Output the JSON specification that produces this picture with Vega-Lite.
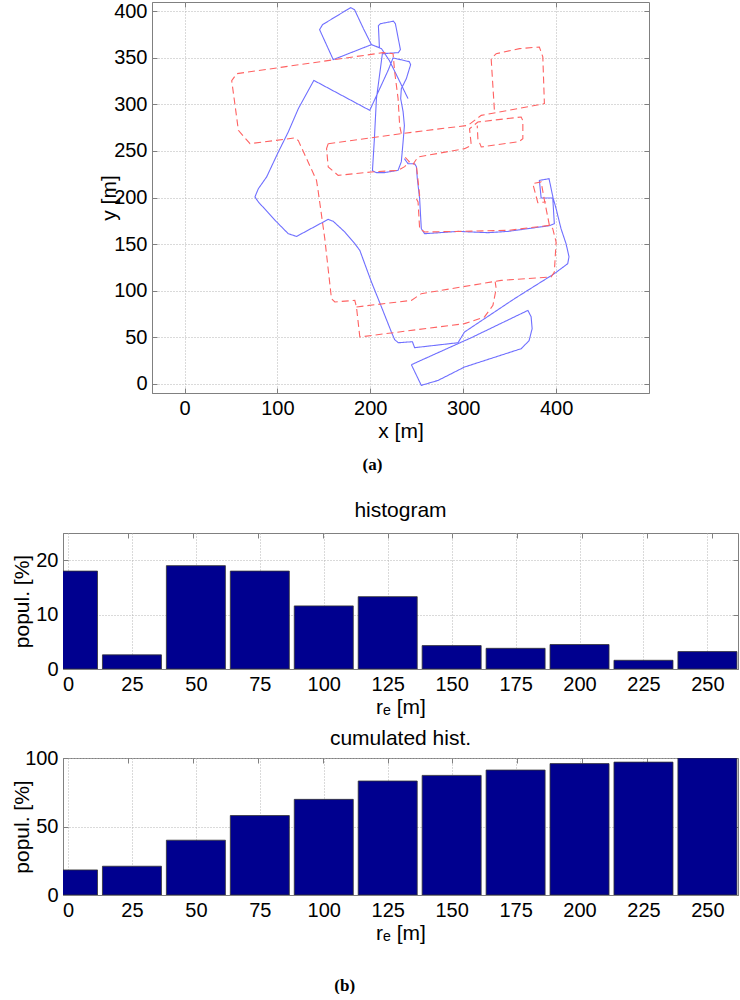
{
  "$schema": "https://vega.github.io/schema/vega-lite/v6.json",
  "padding": {"left": 10, "top": 0, "right": 0, "bottom": 0},
  "background": "white",
  "config": {
    "view": {"stroke": "#808080", "strokeWidth": 1},
    "axis": {
      "labelFont": "Liberation Sans", "labelFontSize": 20, "labelColor": "#000",
      "titleFont": "Liberation Sans", "titleFontSize": 21, "titleFontWeight": "normal", "titleColor": "#000",
      "domainColor": "#808080", "tickColor": "#808080", "tickSize": -5, "labelPadding": 10,
      "grid": true, "gridColor": "#b4b4b4", "gridDash": [1, 2], "gridWidth": 1
    },
    "title": {"font": "Liberation Sans", "fontSize": 21, "fontWeight": "normal", "color": "#000"}
  },
  "datasets": {
    "traj": [
      {"s":"blue","seg":"b1","i":1,"x":240.6,"y":306.2},
      {"s":"blue","seg":"b1","i":2,"x":229.1,"y":329.8},
      {"s":"blue","seg":"b1","i":3,"x":220.6,"y":347.0},
      {"s":"blue","seg":"b1","i":4,"x":212.0,"y":359.9},
      {"s":"blue","seg":"b1","i":5,"x":201.2,"y":364.2},
      {"s":"blue","seg":"b1","i":6,"x":160.1,"y":348.1},
      {"s":"blue","seg":"b1","i":7,"x":145.4,"y":380.3},
      {"s":"blue","seg":"b1","i":8,"x":148.6,"y":385.7},
      {"s":"blue","seg":"b1","i":9,"x":178.7,"y":403.9},
      {"s":"blue","seg":"b1","i":10,"x":183.0,"y":401.8},
      {"s":"blue","seg":"b1","i":11,"x":192.6,"y":381.4},
      {"s":"blue","seg":"b1","i":12,"x":201.2,"y":364.2},
      {"s":"blue","seg":"b1","i":13,"x":209.8,"y":361.0},
      {"s":"blue","seg":"b1","i":14,"x":208.7,"y":384.6},
      {"s":"blue","seg":"b1","i":15,"x":210.9,"y":386.7},
      {"s":"blue","seg":"b1","i":16,"x":224.9,"y":389.4},
      {"s":"blue","seg":"b1","i":17,"x":227.0,"y":386.7},
      {"s":"blue","seg":"b1","i":18,"x":232.4,"y":358.8},
      {"s":"blue","seg":"b1","i":19,"x":230.2,"y":355.6},
      {"s":"blue","seg":"b1","i":20,"x":213.0,"y":354.5},
      {"s":"blue","seg":"b1","i":21,"x":206.6,"y":306.2},
      {"s":"blue","seg":"b1","i":22,"x":204.4,"y":263.2},
      {"s":"blue","seg":"b1","i":23,"x":202.3,"y":228.8},
      {"s":"blue","seg":"b1","i":24,"x":206.6,"y":226.7},
      {"s":"blue","seg":"b1","i":25,"x":215.2,"y":226.7},
      {"s":"blue","seg":"b1","i":26,"x":229.9,"y":229.2},
      {"s":"blue","seg":"b1","i":27,"x":233.4,"y":238.5},
      {"s":"blue","seg":"b1","i":28,"x":235.3,"y":260.0},
      {"s":"blue","seg":"b1","i":29,"x":236.7,"y":277.2},
      {"s":"blue","seg":"b1","i":30,"x":235.3,"y":292.2},
      {"s":"blue","seg":"b1","i":31,"x":232.7,"y":306.2},
      {"s":"blue","seg":"b1","i":32,"x":233.4,"y":316.9},
      {"s":"blue","seg":"b1","i":33,"x":238.8,"y":327.7},
      {"s":"blue","seg":"b1","i":34,"x":243.4,"y":342.7},
      {"s":"blue","seg":"b1","i":35,"x":242.0,"y":345.9},
      {"s":"blue","seg":"b1","i":36,"x":224.5,"y":349.9},
      {"s":"blue","seg":"b1","i":37,"x":219.2,"y":336.6},
      {"s":"blue","seg":"b1","i":38,"x":199.4,"y":293.6},
      {"s":"blue","seg":"b1","i":39,"x":139.2,"y":325.8},
      {"s":"blue","seg":"b1","i":40,"x":122.5,"y":295.4},
      {"s":"blue","seg":"b1","i":41,"x":111.7,"y":270.4},
      {"s":"blue","seg":"b1","i":42,"x":101.0,"y":248.9},
      {"s":"blue","seg":"b1","i":43,"x":88.4,"y":222.1},
      {"s":"blue","seg":"b1","i":44,"x":79.5,"y":209.5},
      {"s":"blue","seg":"b1","i":45,"x":75.8,"y":200.6},
      {"s":"blue","seg":"b1","i":46,"x":79.5,"y":195.2},
      {"s":"blue","seg":"b1","i":47,"x":99.2,"y":173.7},
      {"s":"blue","seg":"b1","i":48,"x":111.7,"y":161.1},
      {"s":"blue","seg":"b1","i":49,"x":120.6,"y":158.2},
      {"s":"blue","seg":"b1","i":50,"x":126.0,"y":161.1},
      {"s":"blue","seg":"b1","i":51,"x":144.0,"y":170.8},
      {"s":"blue","seg":"b1","i":52,"x":154.7,"y":176.5},
      {"s":"blue","seg":"b1","i":53,"x":160.1,"y":174.4},
      {"s":"blue","seg":"b1","i":54,"x":172.5,"y":163.0},
      {"s":"blue","seg":"b1","i":55,"x":183.3,"y":150.4},
      {"s":"blue","seg":"b1","i":56,"x":188.7,"y":143.2},
      {"s":"blue","seg":"b1","i":57,"x":201.2,"y":109.3},
      {"s":"blue","seg":"b1","i":58,"x":212.0,"y":82.4},
      {"s":"blue","seg":"b1","i":59,"x":222.7,"y":55.5},
      {"s":"blue","seg":"b1","i":60,"x":226.2,"y":47.3},
      {"s":"blue","seg":"b1","i":61,"x":230.2,"y":44.0},
      {"s":"blue","seg":"b1","i":62,"x":245.3,"y":45.1},
      {"s":"blue","seg":"b1","i":63,"x":247.7,"y":38.7},
      {"s":"blue","seg":"b1","i":64,"x":294.4,"y":44.0},
      {"s":"blue","seg":"b1","i":65,"x":301.4,"y":55.5},
      {"s":"blue","seg":"b1","i":66,"x":355.2,"y":91.3},
      {"s":"blue","seg":"b1","i":67,"x":398.1,"y":118.2},
      {"s":"blue","seg":"b1","i":68,"x":412.5,"y":128.9},
      {"s":"blue","seg":"b1","i":69,"x":413.9,"y":136.4},
      {"s":"blue","seg":"b1","i":70,"x":410.7,"y":150.4},
      {"s":"blue","seg":"b1","i":71,"x":405.3,"y":166.5},
      {"s":"blue","seg":"b1","i":72,"x":400.0,"y":188.0},
      {"s":"blue","seg":"b1","i":73,"x":396.7,"y":199.8},
      {"s":"blue","seg":"b1","i":74,"x":392.4,"y":220.2},
      {"s":"blue","seg":"b1","i":75,"x":382.0,"y":218.4},
      {"s":"blue","seg":"b1","i":76,"x":383.9,"y":199.5},
      {"s":"blue","seg":"b1","i":77,"x":396.4,"y":199.5},
      {"s":"blue","seg":"b1","i":78,"x":398.1,"y":171.9},
      {"s":"blue","seg":"b1","i":79,"x":392.8,"y":169.7},
      {"s":"blue","seg":"b1","i":80,"x":348.1,"y":163.6},
      {"s":"blue","seg":"b1","i":81,"x":326.6,"y":162.2},
      {"s":"blue","seg":"b1","i":82,"x":294.4,"y":163.6},
      {"s":"blue","seg":"b1","i":83,"x":258.5,"y":161.1},
      {"s":"blue","seg":"b1","i":84,"x":254.9,"y":166.5},
      {"s":"blue","seg":"b1","i":85,"x":253.1,"y":198.7},
      {"s":"blue","seg":"b1","i":86,"x":250.6,"y":220.2},
      {"s":"blue","seg":"b1","i":87,"x":249.6,"y":233.1},
      {"s":"blue","seg":"b1","i":88,"x":247.7,"y":236.3},
      {"s":"blue","seg":"b1","i":89,"x":240.6,"y":236.3},
      {"s":"blue","seg":"b1","i":90,"x":236.7,"y":241.7},
      {"s":"blue","seg":"b2","i":1,"x":244.2,"y":20.4},
      {"s":"blue","seg":"b2","i":2,"x":308.7,"y":49.4},
      {"s":"blue","seg":"b2","i":3,"x":369.6,"y":78.7},
      {"s":"blue","seg":"b2","i":4,"x":373.1,"y":72.0},
      {"s":"blue","seg":"b2","i":5,"x":374.2,"y":59.1},
      {"s":"blue","seg":"b2","i":6,"x":370.9,"y":46.2},
      {"s":"blue","seg":"b2","i":7,"x":362.4,"y":37.6},
      {"s":"blue","seg":"b2","i":8,"x":301.4,"y":17.9},
      {"s":"blue","seg":"b2","i":9,"x":272.9,"y":3.5},
      {"s":"blue","seg":"b2","i":10,"x":254.9,"y":-1.8},
      {"s":"blue","seg":"b2","i":11,"x":244.2,"y":20.4},
      {"s":"red","seg":"r1","i":1,"x":233.4,"y":268.6},
      {"s":"red","seg":"r1","i":2,"x":231.6,"y":277.2},
      {"s":"red","seg":"r1","i":3,"x":229.9,"y":306.2},
      {"s":"red","seg":"r1","i":4,"x":226.2,"y":335.2},
      {"s":"red","seg":"r1","i":5,"x":224.5,"y":354.5},
      {"s":"red","seg":"r1","i":6,"x":213.8,"y":355.6},
      {"s":"red","seg":"r1","i":7,"x":56.2,"y":333.0},
      {"s":"red","seg":"r1","i":8,"x":50.8,"y":325.5},
      {"s":"red","seg":"r1","i":9,"x":54.4,"y":299.0},
      {"s":"red","seg":"r1","i":10,"x":58.0,"y":272.1},
      {"s":"red","seg":"r1","i":11,"x":70.5,"y":257.8},
      {"s":"red","seg":"r1","i":12,"x":118.8,"y":264.0},
      {"s":"red","seg":"r1","i":13,"x":122.5,"y":261.1},
      {"s":"red","seg":"r1","i":14,"x":142.1,"y":218.4},
      {"s":"red","seg":"r1","i":15,"x":144.0,"y":205.9},
      {"s":"red","seg":"r1","i":16,"x":151.0,"y":155.8},
      {"s":"red","seg":"r1","i":17,"x":158.2,"y":91.3},
      {"s":"red","seg":"r1","i":18,"x":161.8,"y":87.8},
      {"s":"red","seg":"r1","i":19,"x":183.3,"y":89.5},
      {"s":"red","seg":"r1","i":20,"x":185.1,"y":82.4},
      {"s":"red","seg":"r1","i":21,"x":188.7,"y":50.2},
      {"s":"red","seg":"r1","i":22,"x":301.4,"y":64.5},
      {"s":"red","seg":"r1","i":23,"x":322.9,"y":71.7},
      {"s":"red","seg":"r1","i":24,"x":332.0,"y":84.1},
      {"s":"red","seg":"r1","i":25,"x":335.5,"y":102.1},
      {"s":"red","seg":"r1","i":26,"x":334.4,"y":109.6},
      {"s":"red","seg":"r2","i":1,"x":185.1,"y":82.4},
      {"s":"red","seg":"r2","i":2,"x":244.2,"y":89.5},
      {"s":"red","seg":"r2","i":3,"x":254.9,"y":96.7},
      {"s":"red","seg":"r2","i":4,"x":340.9,"y":111.0},
      {"s":"red","seg":"r2","i":5,"x":394.6,"y":114.6},
      {"s":"red","seg":"r2","i":6,"x":398.1,"y":120.0},
      {"s":"red","seg":"r2","i":7,"x":400.0,"y":152.2},
      {"s":"red","seg":"r2","i":8,"x":396.4,"y":166.5},
      {"s":"red","seg":"r2","i":9,"x":392.8,"y":170.1},
      {"s":"red","seg":"r2","i":10,"x":348.1,"y":164.7},
      {"s":"red","seg":"r2","i":11,"x":297.9,"y":163.6},
      {"s":"red","seg":"r2","i":12,"x":258.5,"y":163.0},
      {"s":"red","seg":"r2","i":13,"x":253.1,"y":166.5},
      {"s":"red","seg":"r2","i":14,"x":251.4,"y":195.2},
      {"s":"red","seg":"r2","i":15,"x":249.6,"y":198.7},
      {"s":"red","seg":"r2","i":16,"x":253.1,"y":202.3},
      {"s":"red","seg":"r2","i":17,"x":249.6,"y":234.5},
      {"s":"red","seg":"r2","i":18,"x":246.3,"y":236.3},
      {"s":"red","seg":"r2","i":19,"x":251.4,"y":243.5},
      {"s":"red","seg":"r2","i":20,"x":301.4,"y":252.5},
      {"s":"red","seg":"r2","i":21,"x":308.7,"y":256.0},
      {"s":"red","seg":"r2","i":22,"x":306.8,"y":273.9},
      {"s":"red","seg":"r2","i":23,"x":315.8,"y":281.1},
      {"s":"red","seg":"r2","i":24,"x":362.4,"y":286.5},
      {"s":"red","seg":"r2","i":25,"x":364.2,"y":282.5},
      {"s":"red","seg":"r2","i":26,"x":364.2,"y":263.2},
      {"s":"red","seg":"r2","i":27,"x":360.2,"y":260.0},
      {"s":"red","seg":"r2","i":28,"x":319.4,"y":254.3},
      {"s":"red","seg":"r2","i":29,"x":315.8,"y":263.2},
      {"s":"red","seg":"r2","i":30,"x":315.1,"y":277.2},
      {"s":"red","seg":"r3","i":1,"x":154.7,"y":257.8},
      {"s":"red","seg":"r3","i":2,"x":233.4,"y":268.6},
      {"s":"red","seg":"r3","i":3,"x":305.1,"y":277.5},
      {"s":"red","seg":"r3","i":4,"x":319.4,"y":288.2},
      {"s":"red","seg":"r3","i":5,"x":387.4,"y":300.8},
      {"s":"red","seg":"r3","i":6,"x":385.7,"y":351.0},
      {"s":"red","seg":"r3","i":7,"x":382.0,"y":361.7},
      {"s":"red","seg":"r3","i":8,"x":360.5,"y":359.9},
      {"s":"red","seg":"r3","i":9,"x":335.5,"y":354.5},
      {"s":"red","seg":"r3","i":10,"x":330.1,"y":349.1},
      {"s":"red","seg":"r3","i":11,"x":333.7,"y":291.9},
      {"s":"red","seg":"r4","i":1,"x":154.7,"y":257.8},
      {"s":"red","seg":"r4","i":2,"x":152.9,"y":252.5},
      {"s":"red","seg":"r4","i":3,"x":154.7,"y":232.8},
      {"s":"red","seg":"r4","i":4,"x":165.4,"y":223.8},
      {"s":"red","seg":"r4","i":5,"x":201.2,"y":227.4},
      {"s":"red","seg":"r4","i":6,"x":229.9,"y":229.2},
      {"s":"red","seg":"r4","i":7,"x":237.0,"y":233.1},
      {"s":"red","seg":"r4","i":8,"x":242.0,"y":238.5},
      {"s":"red","seg":"r4","i":9,"x":236.7,"y":243.9},
      {"s":"red","seg":"r5","i":1,"x":392.8,"y":170.1},
      {"s":"red","seg":"r5","i":2,"x":387.1,"y":198.7},
      {"s":"red","seg":"r5","i":3,"x":383.9,"y":216.7},
      {"s":"red","seg":"r5","i":4,"x":374.9,"y":214.9},
      {"s":"red","seg":"r5","i":5,"x":380.3,"y":194.4},
      {"s":"red","seg":"r5","i":6,"x":389.2,"y":195.2}
    ],
    "hist": [
      {"r":0,"h":18.0,"c":18.3},
      {"r":25,"h":2.6,"c":21.0},
      {"r":50,"h":19.0,"c":40.0},
      {"r":75,"h":18.0,"c":58.0},
      {"r":100,"h":11.6,"c":69.8},
      {"r":125,"h":13.3,"c":83.2},
      {"r":150,"h":4.3,"c":87.3},
      {"r":175,"h":3.8,"c":91.2},
      {"r":200,"h":4.5,"c":95.9},
      {"r":225,"h":1.6,"c":97.0},
      {"r":250,"h":3.2,"c":100}
    ]
  },
  "center": true,
  "spacing": 25,
  "vconcat": [
    {
      "width": 497,
      "height": 391,
      "title": {"text": "(a)", "orient": "bottom", "anchor": "middle", "dx": -28, "offset": 16, "font": "Liberation Serif", "fontSize": 17, "fontWeight": "bold"},
      "data": {"name": "traj"},
      "resolve": {"scale": {"x": "independent", "y": "independent"}, "axis": {"x": "independent", "y": "independent"}},
      "layer": [
        {
          "mark": {"type": "line", "strokeWidth": 1.1, "clip": true},
          "encoding": {
            "x": {"field": "x", "type": "quantitative", "scale": {"domain": [-35, 500], "nice": false, "zero": false},
                  "axis": {"values": [0, 100, 200, 300, 400], "title": "x [m]", "titlePadding": 2}},
            "y": {"field": "y", "type": "quantitative", "scale": {"domain": [-10, 410], "nice": false, "zero": false},
                  "axis": {"values": [0, 50, 100, 150, 200, 250, 300, 350, 400], "title": "y [m]", "titlePadding": -6}},
            "color": {"field": "s", "type": "nominal", "scale": {"domain": ["blue", "red"], "range": ["#6f6fff", "#ff6262"]}, "legend": null},
            "strokeDash": {"field": "s", "type": "nominal", "scale": {"domain": ["blue", "red"], "range": [[1, 0], [7, 4]]}, "legend": null},
            "detail": {"field": "seg", "type": "nominal"},
            "order": {"field": "i", "type": "quantitative"}
          }
        },
        {
          "mark": {"type": "point", "opacity": 0},
          "encoding": {
            "x": {"field": "x", "type": "quantitative", "scale": {"domain": [-35, 500], "nice": false, "zero": false},
                  "axis": {"orient": "top", "values": [0, 100, 200, 300, 400], "labels": false, "title": null, "grid": false, "domain": false}},
            "y": {"field": "y", "type": "quantitative", "scale": {"domain": [-10, 410], "nice": false, "zero": false},
                  "axis": {"orient": "right", "values": [0, 50, 100, 150, 200, 250, 300, 350, 400], "labels": false, "title": null, "grid": false, "domain": false}}
          }
        }
      ]
    },
    {
      "title": {"text": "(b)", "orient": "bottom", "anchor": "middle", "dx": -30, "offset": 34, "font": "Liberation Serif", "fontSize": 17, "fontWeight": "bold"},
      "spacing": 9,
      "vconcat": [
        {
          "width": 675,
          "height": 136,
          "title": {"text": "histogram", "offset": 12},
          "data": {"name": "hist"},
          "resolve": {"scale": {"x": "independent", "y": "independent"}, "axis": {"x": "independent", "y": "independent"}},
          "layer": [
            {
              "mark": {"type": "bar", "size": 59, "clip": true, "color": "#00008f", "stroke": "#333333", "strokeWidth": 0.8},
              "encoding": {
                "x": {"field": "r", "type": "quantitative", "scale": {"domain": [0, 260], "nice": false, "zero": false},
                      "axis": {"values": [0, 25, 50, 75, 100, 125, 150, 175, 200, 225, 250], "title": "rₑ [m]", "titlePadding": 2}},
                "y": {"field": "h", "type": "quantitative", "scale": {"domain": [0, 25], "nice": false},
                      "axis": {"values": [0, 10, 20], "title": "popul. [%]", "titleX": -31}}
              }
            },
            {
              "mark": {"type": "point", "opacity": 0},
              "encoding": {
                "x": {"field": "r", "type": "quantitative", "scale": {"domain": [0, 260], "nice": false, "zero": false},
                      "axis": {"orient": "top", "values": [0, 25, 50, 75, 100, 125, 150, 175, 200, 225, 250], "labels": false, "title": null, "grid": false, "domain": false}},
                "y": {"field": "h", "type": "quantitative", "scale": {"domain": [0, 25], "nice": false},
                      "axis": {"orient": "right", "values": [0, 10, 20], "labels": false, "title": null, "grid": false, "domain": false}}
              }
            }
          ]
        },
        {
          "width": 675,
          "height": 137,
          "title": {"text": "cumulated hist.", "offset": -1},
          "data": {"name": "hist"},
          "resolve": {"scale": {"x": "independent", "y": "independent"}, "axis": {"x": "independent", "y": "independent"}},
          "layer": [
            {
              "mark": {"type": "bar", "size": 59, "clip": true, "color": "#00008f", "stroke": "#333333", "strokeWidth": 0.8},
              "encoding": {
                "x": {"field": "r", "type": "quantitative", "scale": {"domain": [0, 260], "nice": false, "zero": false},
                      "axis": {"values": [0, 25, 50, 75, 100, 125, 150, 175, 200, 225, 250], "title": "rₑ [m]", "titlePadding": 2}},
                "y": {"field": "c", "type": "quantitative", "scale": {"domain": [0, 100], "nice": false},
                      "axis": {"values": [0, 50, 100], "title": "popul. [%]", "titleX": -31}}
              }
            },
            {
              "mark": {"type": "point", "opacity": 0},
              "encoding": {
                "x": {"field": "r", "type": "quantitative", "scale": {"domain": [0, 260], "nice": false, "zero": false},
                      "axis": {"orient": "top", "values": [0, 25, 50, 75, 100, 125, 150, 175, 200, 225, 250], "labels": false, "title": null, "grid": false, "domain": false}},
                "y": {"field": "c", "type": "quantitative", "scale": {"domain": [0, 100], "nice": false},
                      "axis": {"orient": "right", "values": [0, 50, 100], "labels": false, "title": null, "grid": false, "domain": false}}
              }
            }
          ]
        }
      ]
    }
  ]
}
